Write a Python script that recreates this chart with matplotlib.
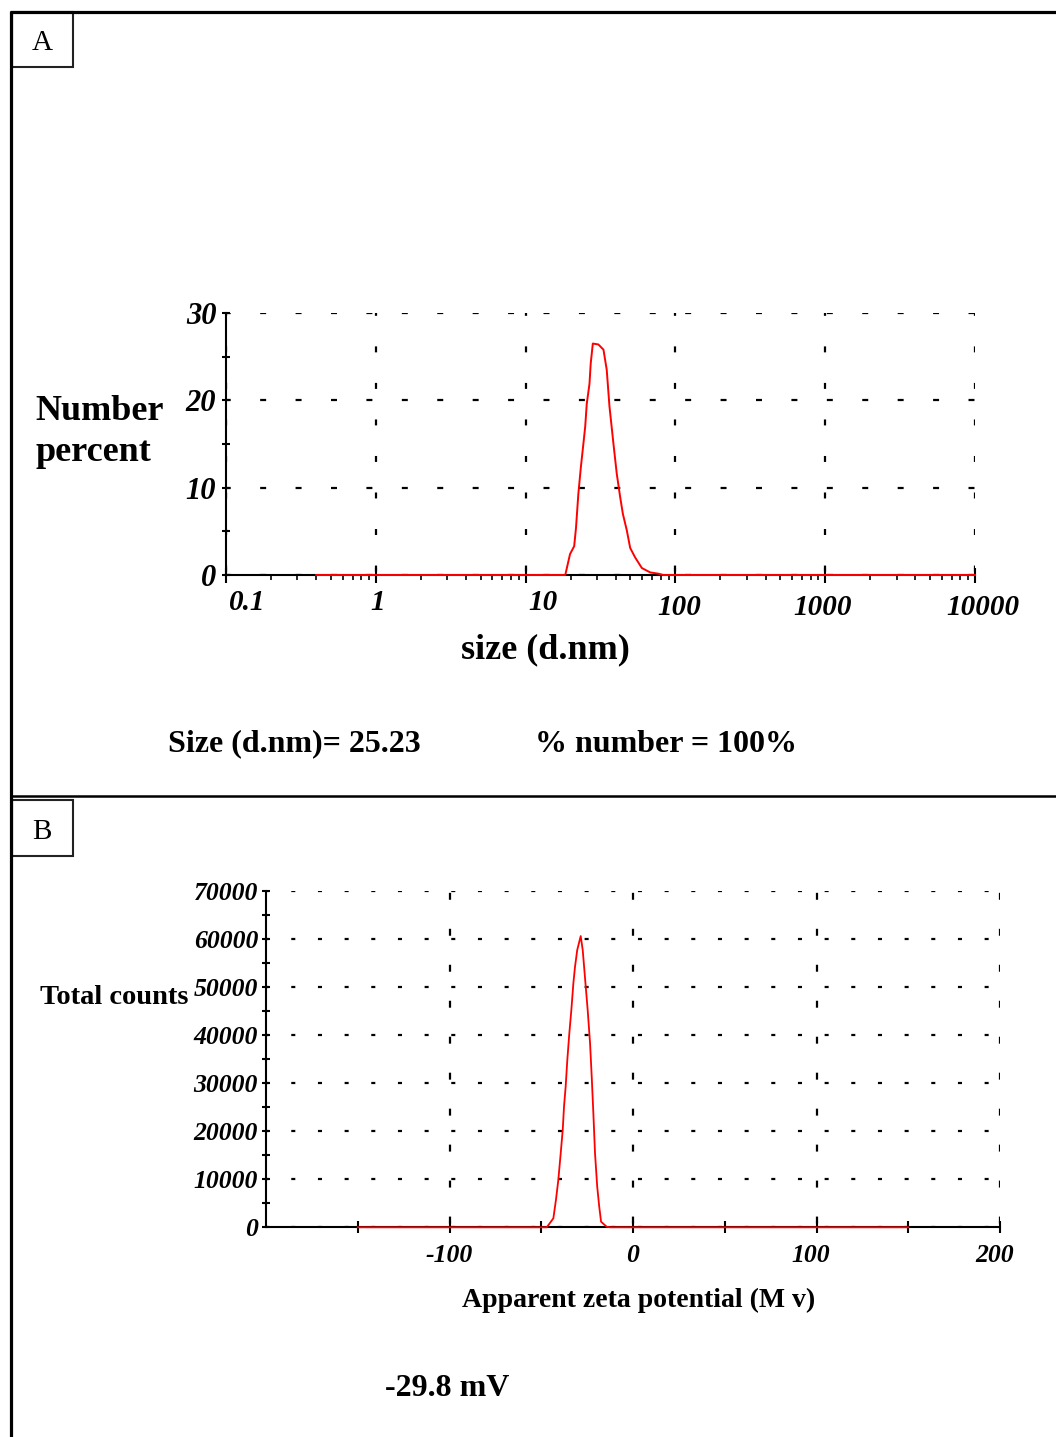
import matplotlib
matplotlib.use('Agg')
import matplotlib.pyplot as plt
from matplotlib.patches import Rectangle
from matplotlib.transforms import ScaledTranslation
from matplotlib.ticker import LogLocator, NullFormatter

plt.rcParams['font.family'] = ['Liberation Serif', 'DejaVu Serif']
plt.rcParams['lines.scale_dashes'] = False

# Panel A - size distribution by number
size_nm = [0.4, 18.4, 19.8, 21.1, 21.7, 22.5, 23.4, 24.3, 25.0, 25.6, 26.7, 27.2,
           28.1, 30.6, 33.1, 34.8, 36.3, 38.6, 40.6, 42.8, 44.6, 47.4, 49.9, 53.9,
           59.7, 67.8, 77.1, 83.2, 10000]
number_pct = [0, 0, 2.4, 3.3, 5.4, 9.3, 12.4, 15.0, 17.0, 19.6, 21.9, 24.2,
              26.5, 26.4, 25.8, 23.5, 19.3, 15.0, 11.6, 8.9, 7.0, 5.1, 3.1, 2.0,
              0.8, 0.3, 0.15, 0, 0]
size_ticks = [0.1, 1, 10, 100, 1000, 10000]
size_ticklabels = ['0.1', '1', '10', '100', '1000', '10000']
pct_ticks = [0, 10, 20, 30]

# Panel B - zeta potential distribution
zeta_mv = [-150, -47.0, -43.4, -42.0, -40.7, -39.4, -38.3, -37.6, -36.7, -35.8,
           -34.7, -33.6, -32.5, -31.6, -30.4, -28.5, -27.4, -26.2, -24.7, -23.4,
           -22.5, -21.6, -20.7, -19.5, -18.4, -17.4, -14.3, -12.5, 150]
total_counts = [0, 0, 1870, 5680, 9840, 15390, 20230, 25080, 29240, 34790,
                40340, 45190, 50740, 54190, 57660, 60570, 57660, 52110, 45190, 38260,
                31320, 23710, 15390, 8440, 4280, 1160, 100, 0, 0]
zeta_ticks = [-100, 0, 100, 200]
counts_ticks = [0, 10000, 20000, 30000, 40000, 50000, 60000, 70000]

W, H = 1056, 1437
fig = plt.figure(figsize=(W / 100, H / 100), dpi=100)


def px_rect(left, top, right, bottom):
    return [left / W, 1 - bottom / H, (right - left) / W, (bottom - top) / H]


tick_font = dict(family='Liberation Serif', weight='bold', style='italic')
red = '#ff0000'

# ---------------- Panel A ----------------
axA = fig.add_axes(px_rect(226, 313, 975, 575))
axA.plot(size_nm, number_pct, color=red, lw=1.4, zorder=3, clip_on=False)
axA.set_xscale('log')
axA.set_xlim(0.1, 10000)
axA.set_ylim(0, 30)
for s in ['top', 'right']:
    axA.spines[s].set_visible(False)
for s in ['left', 'bottom']:
    axA.spines[s].set_linewidth(1.5)

axA.set_xticks(size_ticks)
axA.set_xticklabels(size_ticklabels, fontsize=21, **tick_font)
axA.xaxis.set_minor_locator(LogLocator(base=10, subs=range(2, 10), numticks=20))
axA.xaxis.set_minor_formatter(NullFormatter())
axA.tick_params(axis='x', which='major', direction='inout', length=10.8, width=1.5, pad=4.5)
axA.tick_params(axis='x', which='minor', direction='out', length=3.6, width=1.2)
axA.set_yticks(pct_ticks)
axA.set_yticks([5, 15, 25], minor=True)
axA.set_yticklabels([str(v) for v in pct_ticks], fontsize=22, **tick_font)
axA.tick_params(axis='y', which='both', direction='inout', length=6, width=1.5, pad=4)

# nudge tick labels like the original
dx_px = [21, 2, 17, 4, -3, 8]
dy_px = [0, 0, 0, -5, -5, -5]
for lab, dx, dy in zip(axA.get_xticklabels(), dx_px, dy_px):
    lab.set_transform(lab.get_transform() + ScaledTranslation(dx / 100, dy / 100, fig.dpi_scale_trans))

axA.yaxis.grid(True, color='black', lw=1.6, linestyle=(0.9, (4.3, 21.2)))
axA.xaxis.grid(True, which='major', color='black', lw=1.6, linestyle=(23.8, (4.3, 22.0)))

axA.set_xlabel('size (d.nm)', fontsize=26, weight='bold', va='center')
axA.xaxis.set_label_coords(0.427, -0.286)
axA.set_ylabel('Number\npercent', fontsize=26, weight='bold', rotation=0,
               ha='left', va='center', linespacing=1.35)
axA.yaxis.set_label_coords(-0.255, 0.546)

# ---------------- Panel B ----------------
axB = fig.add_axes(px_rect(266, 890.7, 1000, 1227.3))
axB.plot(zeta_mv, total_counts, color=red, lw=1.3, zorder=3, clip_on=False)
axB.set_xlim(-200, 200)
axB.set_ylim(0, 70000)
for s in ['top', 'right']:
    axB.spines[s].set_visible(False)
for s in ['left', 'bottom']:
    axB.spines[s].set_linewidth(1.5)

axB.set_xticks(zeta_ticks)
axB.set_xticks([-150, -50, 50, 150], minor=True)
axB.set_xticklabels([str(v) for v in zeta_ticks], fontsize=18.5, **tick_font)
axB.tick_params(axis='x', which='both', direction='inout', length=8, width=1.5, pad=8)
axB.set_yticks(counts_ticks)
axB.set_yticks([5000 + 10000 * i for i in range(7)], minor=True)
axB.set_yticklabels([str(v) for v in counts_ticks], fontsize=18.5, **tick_font)
axB.tick_params(axis='y', which='both', direction='inout', length=5.5, width=1.5, pad=3)

bdx = [0, 0, -6, -5]
for lab, dx in zip(axB.get_xticklabels(), bdx):
    lab.set_transform(lab.get_transform() + ScaledTranslation(dx / 100, 0, fig.dpi_scale_trans))

axB.yaxis.grid(True, color='black', lw=1.6, linestyle=(1.0, (2.9, 16.3)))
axB.xaxis.grid(True, which='major', color='black', lw=1.6, linestyle=(23.4, (5.0, 20.9)))

axB.set_xlabel('Apparent zeta potential (M v)', fontsize=20, weight='bold', va='center')
axB.xaxis.set_label_coords(0.507, -0.216)
axB.set_ylabel('Total counts', fontsize=20.5, weight='bold', rotation=0, ha='left', va='center')
axB.yaxis.set_label_coords(-0.308, 0.684)

# ---------------- frame, panel letters, notes ----------------
ov = fig.add_axes([0, 0, 1, 1], zorder=-1)
ov.set_xlim(0, W)
ov.set_ylim(H, 0)
ov.axis('off')
ov.plot([10, W], [12, 12], color='black', lw=2.3, solid_capstyle='butt')
ov.plot([10.5, 10.5], [11, H], color='black', lw=2.3, solid_capstyle='butt')
ov.plot([10, W], [796, 796], color='black', lw=1.8, solid_capstyle='butt')
for top, bottom, letter in [(12, 67, 'A'), (800, 856, 'B')]:
    ov.add_patch(Rectangle((11.5, top), 61.5, bottom - top, fill=False, ec='#222222', lw=1.5))
    ov.text(42, (top + bottom) / 2 + 4, letter, fontsize=21, ha='center', va='center')

ov.text(168, 744, 'Size (d.nm)= 25.23', fontsize=23, weight='bold', ha='left', va='center')
ov.text(535, 744, '% number = 100%', fontsize=23, weight='bold', ha='left', va='center')
ov.text(385, 1388, '-29.8 mV', fontsize=23, weight='bold', ha='left', va='center')

fig.savefig('out.png', dpi=100)
